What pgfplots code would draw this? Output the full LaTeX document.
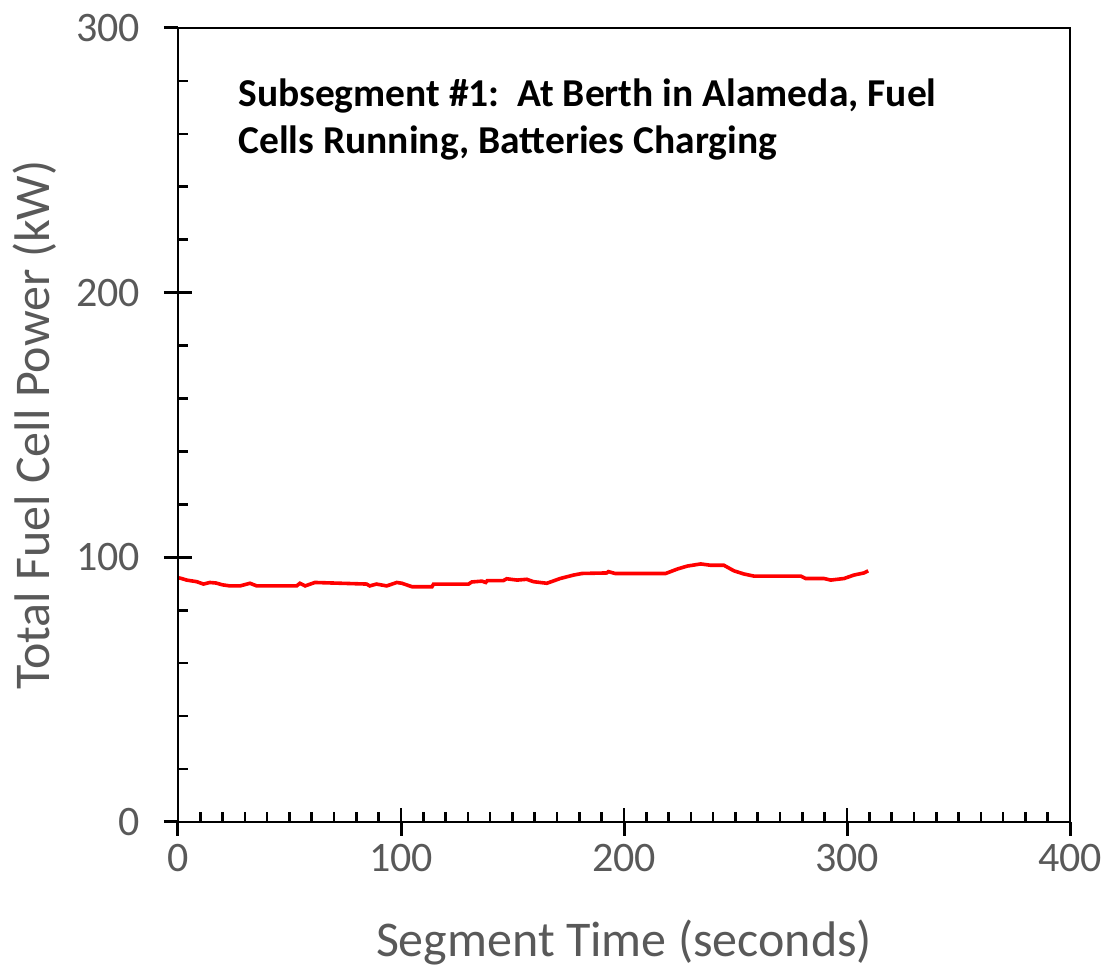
\documentclass[border=0pt]{standalone}
\usepackage{fontspec}
\setmainfont{Carlito}
\usepackage{pgfplots}
\pgfplotsset{compat=1.18}
\definecolor{labelgray}{HTML}{595959}
\pgfplotsset{
  fcframe/.style={
    at={(0,0)}, anchor=south west,
    width=446pt, height=397pt, scale only axis,
    xmin=0, xmax=400, ymin=0, ymax=300,
    xtick={0,100,...,400}, ytick={0,100,200,300},
    xtick pos=left, ytick pos=left,
    axis line style={line width=1.2pt},
  }
}
\begin{document}
\begin{tikzpicture}
\path[use as bounding box] (-89pt,-75pt) rectangle (465pt,411pt);
% inner ticks, frame, data
\begin{axis}[
    fcframe,
    minor x tick num=9, minor y tick num=4,
    tick align=inside,
    major tick length=7pt, minor tick length=5pt,
    every tick/.style={black, line width=1.3pt},
    xticklabels={}, yticklabels={},
    xlabel={Segment Time (seconds)},
    ylabel={Total Fuel Cell Power (kW)},
    label style={font=\fontsize{25}{30}\selectfont, text=labelgray},
    xlabel style={at={(axis description cs:0.5,-0.152)}, anchor=center},
    ylabel style={at={(axis description cs:-0.161,0.5)}, anchor=center, rotate=0},
]
\addplot[red, line width=1.8pt] coordinates {
(0,92.3)(1.6,92.0)(3.9,91.4)(8.4,90.8)(11.4,89.9)(14.3,90.5)(17,90.3)(20,89.6)
(23.3,89.2)(27.8,89.2)(32.3,90.2)(35.3,89.2)(53.2,89.2)(54.7,90.2)(57,89.2)
(61.4,90.5)(84.6,89.9)(86,89.2)(89,89.9)(93.6,89.2)(98.1,90.5)(100.4,90.2)
(104.9,88.9)(113.9,88.9)(114.6,89.9)(130.3,89.9)(131.8,90.7)(136.3,91.0)
(138,90.5)(138.7,91.2)(145.9,91.2)(147.4,91.9)(152,91.4)(156.4,91.7)
(159.4,90.8)(165.4,90.2)(171.4,92.0)(177.4,93.3)(181.2,93.9)(192.3,94.1)
(193,94.6)(196,93.9)(218.7,93.9)(224,95.6)(228.4,96.7)(234.4,97.5)
(238.9,97.0)(244.8,97.0)(249.3,94.9)(253.8,93.7)(258.3,92.9)(279.3,92.9)
(281.5,92.0)(289.7,92.0)(292.7,91.4)(298.7,92.0)(303.1,93.3)(307.6,94.1)
(309.5,94.9)
};
\node[anchor=north west, inner sep=0pt, align=left,
      font=\bfseries\fontsize{19.75}{23.75}\selectfont]
  at (axis cs:26.9,281.1)
  {Subsegment \#1:~~At Berth in Alameda, Fuel\\Cells Running, Batteries Charging};
\end{axis}
% outer halves of the major ticks, with the tick labels
\begin{axis}[
    fcframe,
    tick align=outside,
    major tick length=7pt,
    major tick style={draw=black, line width=1.5pt},
    /pgf/number format/assume math mode=true,
    ticklabel style={font=\fontsize{21}{25}\selectfont, text=labelgray},
    xticklabel style={yshift=-0.5pt},
    yticklabel style={xshift=-8.5pt},
]
\end{axis}
\end{tikzpicture}
\end{document}
